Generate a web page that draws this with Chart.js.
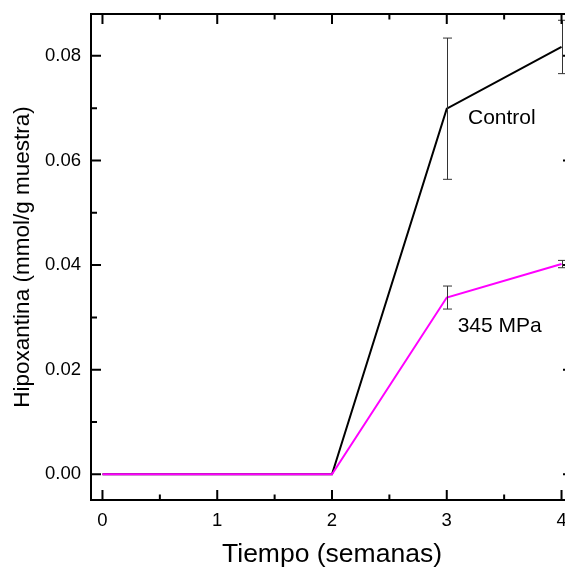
<!DOCTYPE html>
<html><head><meta charset="utf-8">
<script src="https://cdn.jsdelivr.net/npm/chart.js@4"></script>
<style>html,body{margin:0;padding:0;overflow:hidden;background:#fff}#wrap{width:565px;height:574px;overflow:hidden}canvas{display:block}</style>
</head><body><div id="wrap"><canvas id="c" width="600" height="574"></canvas></div>
<script>
const weeks = [0, 1, 2, 3, 4];
const control = [0, 0, 0, 0.0699, 0.0817];
const controlErr = [0, 0, 0, 0.0135, 0.0051];
const mpa345 = [0, 0, 0, 0.0338, 0.0402];
const mpa345Err = [0, 0, 0, 0.0022, 0.0007];
const xTicks = [0, 1, 2, 3, 4];
const xMinor = [0.5, 1.5, 2.5, 3.5];
const yTicks = [0, 0.02, 0.04, 0.06, 0.08];
const yMinor = [0.01, 0.03, 0.05, 0.07];
const seriesNames = ['Control', '345 MPa'];
const xTitle = 'Tiempo (semanas)';
const yTitle = 'Hipoxantina (mmol/g muestra)';

const FONT = "'Liberation Sans', Arial, sans-serif";

const frameTicks = {
  id: 'frameTicks',
  afterDatasetsDraw(chart) {
    const {ctx, chartArea: a, scales: {x, y}} = chart;
    ctx.save();
    // error bars
    const errs = [[control, controlErr], [mpa345, mpa345Err]];
    ctx.strokeStyle = '#333';
    ctx.lineWidth = 1;
    errs.forEach(([vals, e]) => {
      weeks.forEach((w, i) => {
        if (!e[i]) return;
        const px = Math.round(x.getPixelForValue(w)) + 0.5;
        const yt = y.getPixelForValue(vals[i] + e[i]);
        const yb = y.getPixelForValue(vals[i] - e[i]);
        ctx.beginPath();
        ctx.moveTo(px, yt); ctx.lineTo(px, yb);
        ctx.moveTo(px - 4.5, yt); ctx.lineTo(px + 4.5, yt);
        ctx.moveTo(px - 4.5, yb); ctx.lineTo(px + 4.5, yb);
        ctx.stroke();
      });
    });
    // frame
    ctx.strokeStyle = '#000';
    ctx.lineWidth = 2;
    ctx.strokeRect(a.left, a.top, a.right - a.left, a.bottom - a.top);
    ctx.beginPath();
    const tx = (v, len) => {
      const p = x.getPixelForValue(v);
      ctx.moveTo(p, a.bottom); ctx.lineTo(p, a.bottom - len);
      ctx.moveTo(p, a.top); ctx.lineTo(p, a.top + len);
    };
    const ty = (v, len) => {
      const p = y.getPixelForValue(v);
      ctx.moveTo(a.left, p); ctx.lineTo(a.left + len, p);
      ctx.moveTo(a.right, p); ctx.lineTo(a.right - len, p);
    };
    xTicks.forEach(v => tx(v, 10));
    xMinor.forEach(v => tx(v, 5.5));
    yTicks.forEach(v => ty(v, 10));
    yMinor.forEach(v => ty(v, 6));
    ctx.stroke();
    // series labels
    ctx.fillStyle = '#000';
    ctx.font = '21px ' + FONT;
    ctx.textAlign = 'left';
    ctx.textBaseline = 'middle';
    const lab = chart.options.plugins.frameTicks.labels;
    lab.forEach(l => {
      ctx.fillText(l.text, x.getPixelForValue(l.x), y.getPixelForValue(l.y));
    });
    ctx.restore();
  }
};

new Chart(document.getElementById('c'), {
  type: 'line',
  data: {
    datasets: [
      {label: seriesNames[0], data: weeks.map((w, i) => ({x: w, y: control[i]})), borderColor: '#000', borderWidth: 2, pointRadius: 0, order: 2, tension: 0},
      {label: seriesNames[1], data: weeks.map((w, i) => ({x: w, y: mpa345[i]})), borderColor: '#ff00ff', borderWidth: 2, pointRadius: 0, order: 1, tension: 0}
    ]
  },
  options: {
    responsive: false,
    animation: false,
    events: [],
    layout: {padding: {left: 0, top: 14, right: 27, bottom: 0}},
    plugins: {
      legend: {display: false},
      tooltip: {enabled: false},
      frameTicks: {labels: [
        {text: seriesNames[0], x: 3.185, y: 0.0681},
        {text: seriesNames[1], x: 3.095, y: 0.0283}
      ]}
    },
    scales: {
      x: {
        type: 'linear', min: -0.1, max: 4.1,
        grid: {display: false, drawTicks: false},
        border: {display: false},
        afterBuildTicks: s => { s.ticks = xTicks.map(v => ({value: v})); },
        afterFit: s => { s.height = 74; s.paddingLeft = 0; s.paddingRight = 0; },
        ticks: {padding: 10, color: '#000', font: {family: FONT, size: 18.5}, maxRotation: 0, callback: v => String(v)},
        title: {display: true, text: xTitle, color: '#000', font: {family: FONT, size: 26.5}, padding: {top: 0, bottom: 3}}
      },
      y: {
        type: 'linear', min: -0.0049, max: 0.088,
        grid: {display: false, drawTicks: false},
        border: {display: false},
        afterBuildTicks: s => { s.ticks = yTicks.map(v => ({value: v})); },
        afterFit: s => { s.width = 91; s.paddingTop = 0; s.paddingBottom = 0; },
        ticks: {padding: 10, color: '#000', font: {family: FONT, size: 18.5}, callback: v => v.toFixed(2)},
        title: {display: true, text: yTitle, color: '#000', font: {family: FONT, size: 22.5}, padding: {top: 9, bottom: 0}}
      }
    }
  },
  plugins: [frameTicks]
});
</script>
</body></html>
